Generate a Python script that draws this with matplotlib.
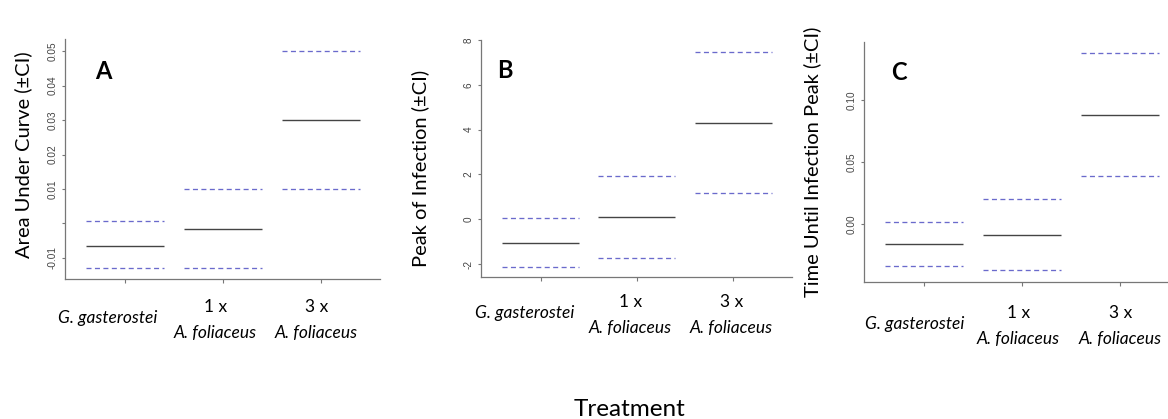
import matplotlib.pyplot as plt
import numpy as np

# treatment groups (x positions 1..3)
treatments = ["G. gasterostei", "1 x\nA. foliaceus", "3 x\nA. foliaceus"]
doses = ["", "1 x", "3 x"]
species = ["G. gasterostei", "A. foliaceus", "A. foliaceus"]

# A: area under curve
auc_mean = [-0.0064, -0.0017, 0.030]
auc_low = [-0.0130, -0.0130, 0.010]
auc_high = [0.0006, 0.010, 0.050]
auc_ticks = [-0.01, 0.0, 0.01, 0.02, 0.03, 0.04, 0.05]
auc_ticklabels = ["-0.01", "", "0.01", "0.02", "0.03", "0.04", "0.05"]

# B: peak of infection
peak_mean = [-1.07, 0.09, 4.30]
peak_low = [-2.15, -1.72, 1.16]
peak_high = [0.05, 1.93, 7.45]
peak_ticks = [-2, 0, 2, 4, 6, 8]
peak_ticklabels = ["-2", "0", "2", "4", "6", "8"]

# C: time until infection peak
time_mean = [-0.016, -0.0086, 0.088]
time_low = [-0.0336, -0.037, 0.0387]
time_high = [0.0013, 0.020, 0.138]
time_ticks = [0.0, 0.05, 0.10]
time_ticklabels = ["0.00", "0.05", "0.10"]

W, H = 1168, 419
fig = plt.figure(figsize=(W / 100, H / 100), dpi=100)

txt_font = ["Lato", "DejaVu Sans"]
tick_font = ["Liberation Sans", "DejaVu Sans"]


def px_axes(left, top, right, bottom):
    return fig.add_axes([left / W, 1 - bottom / H, (right - left) / W, (bottom - top) / H])


panels = [
    dict(box=(65, 39, 380, 279), ylim=(-0.0161, 0.0535), mean=auc_mean, low=auc_low, high=auc_high,
         ticks=auc_ticks, ticklabels=auc_ticklabels, letter="A", letter_pos=(0.095, 0.865),
         ylabel="Area Under Curve (±CI)", ylabel_pos=(-0.133, 0.517),
         shift=[-0.185, -0.08, -0.04], yoff=0),
    dict(box=(481, 40, 792, 277), ylim=(-2.58, 8.0), mean=peak_mean, low=peak_low, high=peak_high,
         ticks=peak_ticks, ticklabels=peak_ticklabels, letter="B", letter_pos=(0.052, 0.87),
         ylabel="Peak of Infection (±CI)", ylabel_pos=(-0.197, 0.46),
         shift=[-0.167, -0.07, -0.02], yoff=-3),
    dict(box=(864, 41.7, 1179, 281.7), ylim=(-0.0465, 0.147), mean=time_mean, low=time_low, high=time_high,
         ticks=time_ticks, ticklabels=time_ticklabels, letter="C", letter_pos=(0.086, 0.873),
         ylabel="Time Until Infection Peak (±CI)", ylabel_pos=(-0.165, 0.50),
         shift=[-0.10, -0.04, 0.01], yoff=3),
]

x = np.arange(1, len(treatments) + 1)
hw = 0.4

for p in panels:
    ax = px_axes(*p["box"])
    ax.hlines(p["high"], x - hw, x + hw, colors="#6a6acc", linewidth=0.95,
              linestyles=(0, (3.8, 2.6)))
    ax.hlines(p["low"], x - hw, x + hw, colors="#6a6acc", linewidth=0.95,
              linestyles=(0, (3.8, 2.6)))
    ax.hlines(p["mean"], x - hw, x + hw, colors="#444444", linewidth=1.0)

    ax.set_xlim(0.38, 3.61)
    ax.set_ylim(*p["ylim"])
    for s in ["top", "right"]:
        ax.spines[s].set_visible(False)
    for s in ["left", "bottom"]:
        ax.spines[s].set_color("#777777")
        ax.spines[s].set_linewidth(0.9)

    ax.set_xticks(x)
    ax.set_xticklabels([])
    ax.tick_params(axis="x", length=3, color="#777777", width=0.8)
    ax.set_yticks(p["ticks"])
    ax.set_yticklabels(p["ticklabels"], rotation=90, va="center", fontsize=7.2,
                       color="#444444", family=tick_font)
    ax.tick_params(axis="y", length=2.5, color="#777777", width=0.8, pad=3)

    ax.text(*p["letter_pos"], p["letter"], transform=ax.transAxes, fontsize=17,
            fontweight="bold", family=txt_font, ha="left", va="center")
    ax.text(*p["ylabel_pos"], p["ylabel"], transform=ax.transAxes, rotation=90,
            fontsize=14.5, family=txt_font, ha="center", va="center")

    for i in range(len(treatments)):
        xi = x[i] + p["shift"][i]
        if doses[i]:
            ax.annotate(doses[i], xy=(xi, 0), xycoords=("data", "axes fraction"),
                        xytext=(0, -(28 + p["yoff"])), textcoords="offset pixels",
                        ha="center", va="center", fontsize=12.5, family=txt_font)
            ax.annotate(species[i], xy=(xi, 0), xycoords=("data", "axes fraction"),
                        xytext=(0, -(54 + p["yoff"])), textcoords="offset pixels",
                        ha="center", va="center", fontsize=12.5, style="italic",
                        family=txt_font)
        else:
            ax.annotate(species[i], xy=(xi, 0), xycoords=("data", "axes fraction"),
                        xytext=(0, -(39 + p["yoff"])), textcoords="offset pixels",
                        ha="center", va="center", fontsize=12.5, style="italic",
                        family=txt_font)

fig.text(629 / W, 1 - 409 / H, "Treatment", ha="center", va="center", fontsize=17.5,
         family=txt_font)

fig.savefig("out.png", dpi=100)
